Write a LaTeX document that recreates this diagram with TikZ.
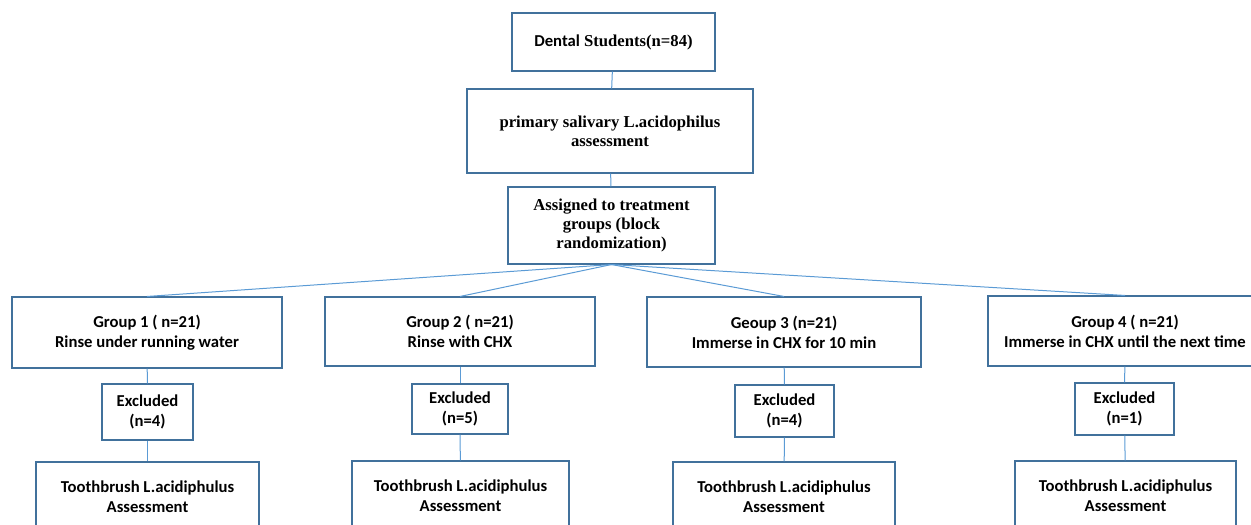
\documentclass[tikz,border=0pt]{standalone}
\usepackage{fontspec}
\setmainfont{Liberation Serif}
\newfontfamily\calibri{Carlito}
\usetikzlibrary{positioning}
\definecolor{boxblue}{HTML}{41719C}
\definecolor{lineblue}{HTML}{5B9BD5}
\tikzset{
  dims/.style 2 args={minimum width=#1*0.75pt, minimum height=#2*0.75pt},
}
\tikzstyle{serifbox} = [rectangle, draw=boxblue, line width=0.8pt, align=center, inner sep=2pt, font=\fontsize{12.5}{14.5}\selectfont\bfseries]
\tikzstyle{groupbox} = [rectangle, draw=boxblue, line width=0.8pt, align=center, inner sep=2pt, font=\calibri\fontsize{12.5}{15}\selectfont\bfseries]
\tikzstyle{link} = [draw=lineblue, line width=0.75pt]

\begin{document}
\begin{tikzpicture}[x=0.75pt, y=-0.75pt]
    \useasboundingbox (0,0) rectangle (1251,524);
    \clip (0,0) rectangle (1251,524);

    \node [serifbox, dims={203}{58}] at (613.5,42) (students) {{\calibri Dental} Students(n=84)};
    \node [serifbox, dims={286}{84}] at (610,131) (salivary) {primary salivary L.acidophilus\\assessment};
    \node [serifbox, dims={207}{77}] at (611.5,225.5) (assign) {Assigned to treatment\\groups (block\\randomization)};

    % groups
    \node [groupbox, dims={270}{71}] at (147,332.5) (group1) {Group 1 ( n=21)\\Rinse under running water};
    \node [groupbox, dims={270}{69}] at (460,331.5) (group2) {Group 2 ( n=21)\\Rinse with CHX};
    \node [groupbox, dims={274}{70}] at (784,332) (group3) {Geoup 3 (n=21)\\Immerse in CHX for 10 min};
    \node [groupbox, dims={274}{70}] at (1125,331) (group4) {Group 4 ( n=21)\\Immerse in CHX until the next time};

    % excluded
    \node [groupbox, dims={91}{56}] at (147.5,412) (excl1) {Excluded\\(n=4)};
    \node [groupbox, dims={96}{50}] at (460,409) (excl2) {Excluded\\(n=5)};
    \node [groupbox, dims={99}{52}] at (784.5,411) (excl3) {Excluded\\(n=4)};
    \node [groupbox, dims={99}{52}] at (1124.5,409) (excl4) {Excluded\\(n=1)};

    % toothbrush assessment
    \node [groupbox, dims={223}{70}] at (147.5,497) (brush1) {Toothbrush L.acidiphulus\\Assessment};
    \node [groupbox, dims={217}{70}] at (460.5,496) (brush2) {Toothbrush L.acidiphulus\\Assessment};
    \node [groupbox, dims={222}{70}] at (784,497) (brush3) {Toothbrush L.acidiphulus\\Assessment};
    \node [groupbox, dims={221}{70}] at (1125.5,496) (brush4) {Toothbrush L.acidiphulus\\Assessment};

    \draw [link] (students) -- (salivary);
    \draw [link] (salivary) -- (assign);
    \draw [link] (assign.south) -- (group1.north);
    \draw [link] (assign.south) -- (group2.north);
    \draw [link] (assign.south) -- (group3.north);
    \draw [link] (assign.south) -- (group4.north);
    \draw [link] (group1) -- (excl1);
    \draw [link] (group2) -- (excl2);
    \draw [link] (group3) -- (excl3);
    \draw [link] (group4) -- (excl4);
    \draw [link] (excl1) -- (brush1);
    \draw [link] (excl2) -- (brush2);
    \draw [link] (excl3) -- (brush3);
    \draw [link] (excl4) -- (brush4);
\end{tikzpicture}
\end{document}
